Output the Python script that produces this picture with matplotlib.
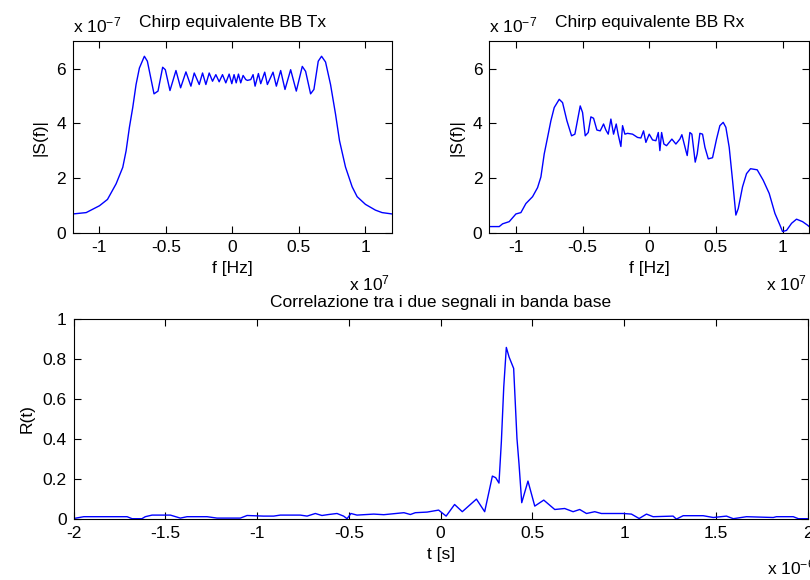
"""Chirp BB Tx / Rx spectra and baseband correlation (MATLAB-style figure)."""
import matplotlib
matplotlib.use('Agg')
import matplotlib.pyplot as plt
from matplotlib.ticker import FuncFormatter

plt.rcParams['font.family'] = ['Liberation Sans', 'DejaVu Sans']
plt.rcParams['mathtext.fontset'] = 'custom'
plt.rcParams['mathtext.rm'] = 'Liberation Sans'
plt.rcParams['mathtext.it'] = 'Liberation Sans'
plt.rcParams['axes.unicode_minus'] = False

# |S(f)| of the transmitted chirp (f in 1e7 Hz, |S| in 1e-7)
tx_f = [-1.2, -1.1, -1.0, -0.94, -0.875, -0.825, -0.8, -0.775, -0.75, -0.725,
        -0.7, -0.6625, -0.64, -0.59, -0.56, -0.525, -0.505, -0.47, -0.425, -0.39,
        -0.35, -0.3125, -0.2875, -0.25, -0.225, -0.2, -0.175, -0.15, -0.125, -0.1,
        -0.075, -0.05, -0.025, -0.005, 0.012, 0.028, 0.045, 0.062, 0.08, 0.1,
        0.1125, 0.1375, 0.155, 0.17, 0.195, 0.2125, 0.2425, 0.2625, 0.305, 0.33,
        0.3625, 0.395, 0.4375, 0.48, 0.525, 0.55, 0.5875, 0.6125, 0.645, 0.67,
        0.7, 0.7375, 0.775, 0.805, 0.85, 0.9, 0.9375, 1.0, 1.075, 1.125, 1.2]
tx_s = [0.70, 0.75, 1.0, 1.23, 1.8, 2.4, 3.0, 3.86, 4.58, 5.42,
        6.02, 6.45, 6.27, 5.08, 5.18, 6.05, 5.96, 5.2, 5.93, 5.3,
        5.88, 5.36, 5.84, 5.42, 5.84, 5.42, 5.84, 5.54, 5.78, 5.52,
        5.78, 5.48, 5.8, 5.45, 5.78, 5.48, 5.8, 5.48, 5.75, 5.6,
        5.57, 5.6, 5.78, 5.36, 5.82, 5.45, 5.87, 5.42, 5.87, 5.36,
        5.93, 5.24, 5.96, 5.18, 6.08, 5.9, 5.08, 5.24, 6.27, 6.45,
        6.24, 5.42, 4.34, 3.37, 2.41, 1.69, 1.33, 1.05, 0.84, 0.75, 0.70]

# |S(f)| of the received chirp
rx_f = [-1.2, -1.125, -1.1, -1.05, -1.0, -0.9625, -0.925, -0.875, -0.8375, -0.8125,
        -0.7875, -0.7625, -0.7375, -0.7125, -0.675, -0.65, -0.6175, -0.5825, -0.5575, -0.5175,
        -0.5, -0.48, -0.4575, -0.4375, -0.4175, -0.3925, -0.3675, -0.3425, -0.325, -0.3075,
        -0.2875, -0.2675, -0.2475, -0.2325, -0.2125, -0.2, -0.1825, -0.1625, -0.125, -0.0875,
        -0.0625, -0.0425, -0.025, 0.0, 0.025, 0.05, 0.068, 0.08, 0.093, 0.11,
        0.13, 0.15, 0.17, 0.2, 0.23, 0.245, 0.275, 0.285, 0.305, 0.32,
        0.345, 0.36, 0.38, 0.4, 0.418, 0.443, 0.475, 0.505, 0.53, 0.555,
        0.575, 0.6, 0.625, 0.65, 0.668, 0.7, 0.73, 0.76, 0.81, 0.855,
        0.9, 0.943, 0.98, 1.0, 1.03, 1.068, 1.105, 1.15, 1.185, 1.2]
rx_s = [0.24, 0.24, 0.34, 0.42, 0.70, 0.75, 1.08, 1.33, 1.66, 2.05,
        2.89, 3.49, 4.10, 4.58, 4.88, 4.76, 4.10, 3.55, 3.61, 4.64,
        4.40, 3.55, 3.67, 4.24, 4.19, 3.76, 3.73, 3.98, 3.76, 3.61,
        4.16, 3.61, 3.98, 3.59, 3.16, 3.92, 3.61, 3.64, 3.61, 3.49,
        3.47, 3.73, 3.31, 3.61, 3.40, 3.37, 3.67, 3.01, 3.67, 3.25,
        3.19, 3.31, 3.43, 3.25, 3.43, 3.59, 3.01, 2.83, 3.67, 3.61,
        2.59, 2.89, 3.64, 3.61, 3.13, 2.71, 2.75, 3.43, 3.92, 4.04,
        3.86, 3.13, 1.93, 0.66, 0.90, 1.69, 2.17, 2.35, 2.31, 1.93,
        1.45, 0.72, 0.30, 0.06, 0.10, 0.36, 0.51, 0.42, 0.30, 0.24]

# correlation R(t), t in 1e-6 s
corr_t = [-2.0, -1.945, -1.709, -1.682, -1.628, -1.61, -1.573, -1.473, -1.419, -1.382,
          -1.273, -1.219, -1.092, -1.055, -0.965, -0.91, -0.874, -0.765, -0.728, -0.683,
          -0.647, -0.61, -0.565, -0.529, -0.51, -0.489, -0.456, -0.365, -0.31, -0.2,
          -0.165, -0.138, -0.074, -0.011, 0.03, 0.076, 0.118, 0.195, 0.24, 0.282,
          0.3, 0.318, 0.331, 0.344, 0.358, 0.373, 0.398, 0.416, 0.427, 0.442,
          0.476, 0.513, 0.562, 0.622, 0.676, 0.722, 0.758, 0.795, 0.84, 0.876,
          0.995, 1.04, 1.082, 1.122, 1.158, 1.267, 1.285, 1.322, 1.431, 1.486,
          1.558, 1.595, 1.667, 1.813, 1.83, 1.922, 1.95, 2.0]
corr_r = [0.003, 0.012, 0.012, 0.002, 0.002, 0.012, 0.02, 0.02, 0.005, 0.012,
          0.012, 0.005, 0.005, 0.018, 0.015, 0.015, 0.02, 0.02, 0.015, 0.028,
          0.018, 0.023, 0.028, 0.015, 0.002, 0.028, 0.02, 0.025, 0.022, 0.032,
          0.023, 0.032, 0.035, 0.045, 0.015, 0.073, 0.037, 0.10, 0.037, 0.215,
          0.207, 0.18, 0.387, 0.66, 0.858, 0.81, 0.753, 0.403, 0.278, 0.082,
          0.19, 0.065, 0.095, 0.048, 0.053, 0.037, 0.048, 0.028, 0.037, 0.028,
          0.028, 0.025, 0.003, 0.025, 0.012, 0.015, 0.0, 0.017, 0.017, 0.008,
          0.015, 0.002, 0.012, 0.008, 0.012, 0.012, 0.002, 0.002]

FS = 12.5
fmt = FuncFormatter(lambda v, p: '%g' % round(v, 6))


def matlab_axes(ax):
    ax.tick_params(direction='in', top=True, right=True, length=5,
                   width=0.8, labelsize=FS, pad=5)
    for s in ax.spines.values():
        s.set_linewidth(0.8)
    ax.xaxis.set_major_formatter(fmt)
    ax.yaxis.set_major_formatter(fmt)


fig = plt.figure(figsize=(8.1, 5.8), dpi=100)
ax1 = fig.add_axes([0.090, 0.598, 0.394, 0.331])
ax2 = fig.add_axes([0.604, 0.598, 0.395, 0.331])
ax3 = fig.add_axes([0.091, 0.105, 0.906, 0.345])

for ax, f, s, ttl in [(ax1, tx_f, tx_s, 'Chirp equivalente BB Tx'),
                      (ax2, rx_f, rx_s, 'Chirp equivalente BB Rx')]:
    ax.plot(f, s, color='#0000ff', lw=1.0)
    ax.set_xlim(-1.2, 1.2)
    ax.set_ylim(0, 7)
    ax.set_xticks([-1, -0.5, 0, 0.5, 1])
    ax.set_yticks([0, 2, 4, 6])
    matlab_axes(ax)
    ax.set_title(ttl, fontsize=FS, pad=10)
    ax.set_xlabel('f [Hz]', fontsize=FS, labelpad=4)
    ax.set_ylabel('|S(f)|', fontsize=FS, labelpad=6)
    ax.text(0.0, 1.03, r'x 10$^{-7}$', transform=ax.transAxes,
            fontsize=FS, ha='left', va='bottom')
    ax.text(0.995, -0.21, r'x 10$^{7}$', transform=ax.transAxes,
            fontsize=FS, ha='right', va='top')

ax3.plot(corr_t, corr_r, color='#0000ff', lw=1.0)
ax3.set_xlim(-2, 2)
ax3.set_ylim(0, 1)
ax3.set_xticks([-2, -1.5, -1, -0.5, 0, 0.5, 1, 1.5, 2])
ax3.set_yticks([0, 0.2, 0.4, 0.6, 0.8, 1])
matlab_axes(ax3)
ax3.set_title('Correlazione tra i due segnali in banda base', fontsize=FS, pad=9)
ax3.set_xlabel('t [s]', fontsize=FS, labelpad=4)
ax3.set_ylabel('R(t)', fontsize=FS, labelpad=6)
ax3.text(0.945, -0.19, r'x 10$^{-6}$', transform=ax3.transAxes,
         fontsize=FS, ha='left', va='top')

fig.savefig('out.png', dpi=100)
print('ok')
